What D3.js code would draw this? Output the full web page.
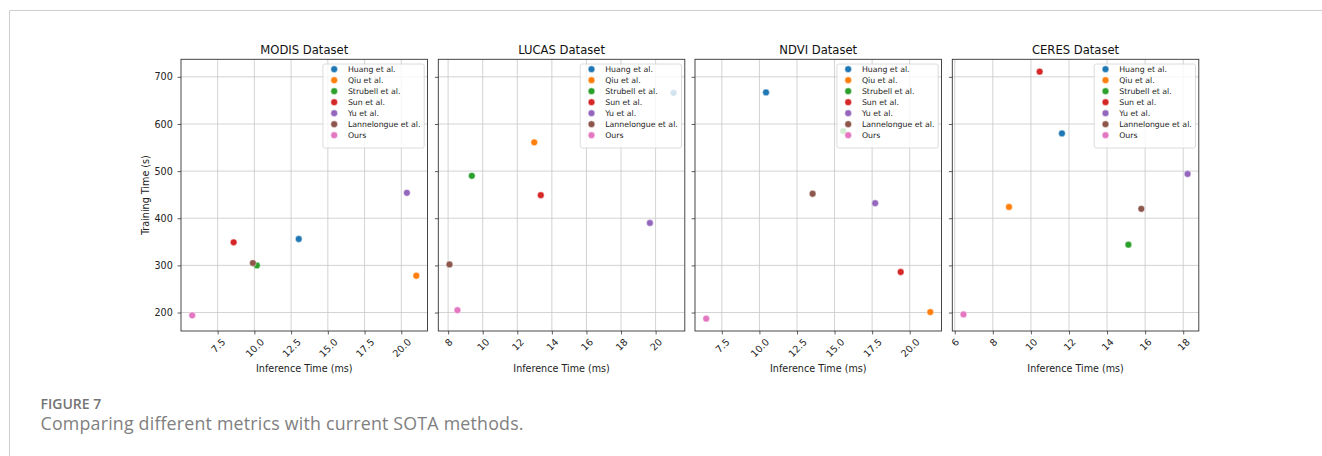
<!DOCTYPE html>
<html>
<head>
<meta charset="utf-8">
<script src="https://cdn.jsdelivr.net/npm/d3@7"></script>
<style>
  html, body { margin: 0; padding: 0; background: #fff; }
  svg { display: block; }
</style>
</head>
<body>
<svg id="chart" width="1322" height="456"></svg>
<script>
// ---------- data ----------
const methods = ["Huang et al.", "Qiu et al.", "Strubell et al.", "Sun et al.", "Yu et al.", "Lannelongue et al.", "Ours"];
const colors = ["#1f77b4", "#ff7f0e", "#2ca02c", "#d62728", "#9467bd", "#8c564b", "#e377c2"];
const datasets = ["MODIS Dataset", "LUCAS Dataset", "NDVI Dataset", "CERES Dataset"];

const modisInference = [13.02, 21.02, 10.17, 8.59, 20.38, 9.90, 5.77];
const modisTraining  = [356, 278, 300, 349, 454, 305, 194];
const lucasInference = [21.04, 12.98, 9.37, 13.36, 19.67, 8.08, 8.54];
const lucasTraining  = [666, 561, 490, 449, 390, 302, 205];
const ndviInference  = [10.44, 21.37, 15.58, 19.40, 17.70, 13.54, 6.46];
const ndviTraining   = [667, 201, 585, 286, 432, 452, 187];
const ceresInference = [11.63, 8.85, 15.12, 10.46, 18.23, 15.80, 6.46];
const ceresTraining  = [580, 424, 344, 711, 494, 420, 196];

const modisTicks = [7.5, 10.0, 12.5, 15.0, 17.5, 20.0];
const lucasTicks = [8, 10, 12, 14, 16, 18, 20];
const ndviTicks  = [7.5, 10.0, 12.5, 15.0, 17.5, 20.0];
const ceresTicks = [6, 8, 10, 12, 14, 16, 18];
const yTicks = [200, 300, 400, 500, 600, 700];

const xLabel = "Inference Time (ms)";
const yLabel = "Training Time (s)";
const figLabel = "FIGURE 7";
const caption = "Comparing different metrics with current SOTA methods.";

(function () {
// ---------- build ----------
const panels = [
  { title: datasets[0], xs: modisInference, ys: modisTraining, ticks: modisTicks, fmt: d3.format(".1f") },
  { title: datasets[1], xs: lucasInference, ys: lucasTraining, ticks: lucasTicks, fmt: d3.format("d") },
  { title: datasets[2], xs: ndviInference,  ys: ndviTraining,  ticks: ndviTicks,  fmt: d3.format(".1f") },
  { title: datasets[3], xs: ceresInference, ys: ceresTraining, ticks: ceresTicks, fmt: d3.format("d") }
];

const svg = d3.select("#chart");
const FONT = "DejaVu Sans, sans-serif";

// page frame
svg.append("line").attr("x1", 9.5).attr("x2", 1322).attr("y1", 10.5).attr("y2", 10.5)
  .attr("stroke", "#cfcfcf").attr("stroke-width", 1);
svg.append("line").attr("x1", 9.5).attr("x2", 9.5).attr("y1", 10.5).attr("y2", 456)
  .attr("stroke", "#cfcfcf").attr("stroke-width", 1);

const lefts = [181, 438.3, 695, 952.3];
const pw = 246.5;
const topY = 59.3, bottomY = 331;

function pad(ext) {
  const r = ext[1] - ext[0];
  return [ext[0] - 0.05 * r, ext[1] + 0.05 * r];
}

const allY = [].concat(...panels.map(p => p.ys));
const y = d3.scaleLinear().domain(pad(d3.extent(allY))).range([bottomY, topY]);

panels.forEach((p, i) => {
  const L = lefts[i], R = L + pw;
  const x = d3.scaleLinear().domain(pad(d3.extent(p.xs))).range([L, R]);
  const g = svg.append("g");

  // grid
  g.selectAll(".vg").data(p.ticks).join("line")
    .attr("x1", d => x(d)).attr("x2", d => x(d)).attr("y1", topY).attr("y2", bottomY)
    .attr("stroke", "#c8c8c8").attr("stroke-width", 0.8);
  g.selectAll(".hg").data(yTicks).join("line")
    .attr("x1", L).attr("x2", R).attr("y1", d => y(d)).attr("y2", d => y(d))
    .attr("stroke", "#c8c8c8").attr("stroke-width", 0.8);

  // points
  g.selectAll(".pt").data(methods.map((m, k) => ({ m, k, xv: p.xs[k], yv: p.ys[k] }))).join("circle")
    .attr("cx", d => x(d.xv)).attr("cy", d => y(d.yv)).attr("r", 3.4)
    .attr("fill", d => colors[d.k]).attr("stroke", "#fff").attr("stroke-width", 0.5);

  // x axis
  const xAxis = d3.axisBottom(x).tickValues(p.ticks).tickFormat(p.fmt).tickSize(3.4).tickPadding(0);
  const xa = g.append("g").attr("transform", `translate(0,${bottomY})`).call(xAxis);
  xa.select(".domain").remove();
  xa.selectAll(".tick line").attr("stroke", "#333").attr("stroke-width", 0.8);
  xa.selectAll(".tick text").each(function (d) {
    const t = d3.select(this);
    t.attr("font-family", FONT).attr("font-size", 9.6).attr("fill", "#222")
      .attr("y", null).attr("dy", null).attr("text-anchor", "middle").attr("dominant-baseline", "central");
    const w = this.getComputedTextLength();
    const h = 7.2;
    const bh = (w + h) * Math.SQRT1_2;
    const cy = 3.4 + 3.3 + bh / 2;
    t.attr("transform", `translate(0,${cy}) rotate(-45)`);
  });

  // y axis ticks
  const yAxis = d3.axisLeft(y).tickValues(yTicks).tickSize(3.4).tickPadding(4.8)
    .tickFormat(i === 0 ? d3.format("d") : () => "");
  const ya = g.append("g").attr("transform", `translate(${L},0)`).call(yAxis);
  ya.select(".domain").remove();
  ya.selectAll(".tick line").attr("stroke", "#333").attr("stroke-width", 0.8);
  ya.selectAll(".tick text").attr("font-family", FONT).attr("font-size", 9.6).attr("fill", "#222");

  // legend
  const lg = g.append("g");
  const lx = R - 3.3, ly = topY + 4.7;
  const rowH = 11;
  const box = lg.append("rect").attr("y", ly).attr("height", rowH * methods.length + 7)
    .attr("rx", 2).attr("fill", "#fff").attr("fill-opacity", 0.8)
    .attr("stroke", "#d3d3d3").attr("stroke-width", 0.8);
  const items = lg.selectAll(".li").data(methods).join("g");
  const texts = items.append("text")
    .attr("font-family", FONT).attr("font-size", 7.8).attr("fill", "#222")
    .attr("dominant-baseline", "central").attr("y", (d, k) => ly + 5.2 + k * rowH).text(d => d);
  let maxW = 0;
  texts.each(function () { maxW = Math.max(maxW, this.getComputedTextLength()); });
  const bw = 25 + maxW + 3.7;
  const bx = lx - bw;
  box.attr("x", bx).attr("width", bw);
  texts.attr("x", bx + 25);
  items.append("circle").attr("cx", bx + 11.3).attr("cy", (d, k) => ly + 5.2 + k * rowH).attr("r", 3.4)
    .attr("fill", (d, k) => colors[k]).attr("stroke", "#fff").attr("stroke-width", 0.5);

  // frame
  g.append("rect").attr("x", L).attr("y", topY).attr("width", pw).attr("height", bottomY - topY)
    .attr("fill", "none").attr("stroke", "#333").attr("stroke-width", 0.9);

  // title
  g.append("text").attr("x", (L + R) / 2).attr("y", 54).attr("text-anchor", "middle")
    .attr("font-family", FONT).attr("font-size", 11.6).attr("fill", "#111").text(p.title);

  // x label
  g.append("text").attr("x", (L + R) / 2).attr("y", 371.5).attr("text-anchor", "middle")
    .attr("font-family", FONT).attr("font-size", 9.6).attr("fill", "#222").text(xLabel);

  if (i === 0) {
    g.append("text").attr("transform", `translate(148.5,${(topY + bottomY) / 2}) rotate(-90)`)
      .attr("text-anchor", "middle")
      .attr("font-family", FONT).attr("font-size", 9.6).attr("fill", "#222").text(yLabel);
  }
});

// caption
svg.append("text").attr("x", 40.5).attr("y", 409.3)
  .attr("font-family", "'Open Sans', 'Noto Sans', sans-serif").attr("font-size", 14).attr("font-weight", 600)
  .attr("fill", "#747474").text(figLabel);
svg.append("text").attr("x", 40.5).attr("y", 430.3)
  .attr("font-family", "'Open Sans', 'Noto Sans', sans-serif").attr("font-size", 17.8)
  .attr("textLength", 483).attr("lengthAdjust", "spacing")
  .attr("fill", "#808080").text(caption);
})();
</script>
</body>
</html>
